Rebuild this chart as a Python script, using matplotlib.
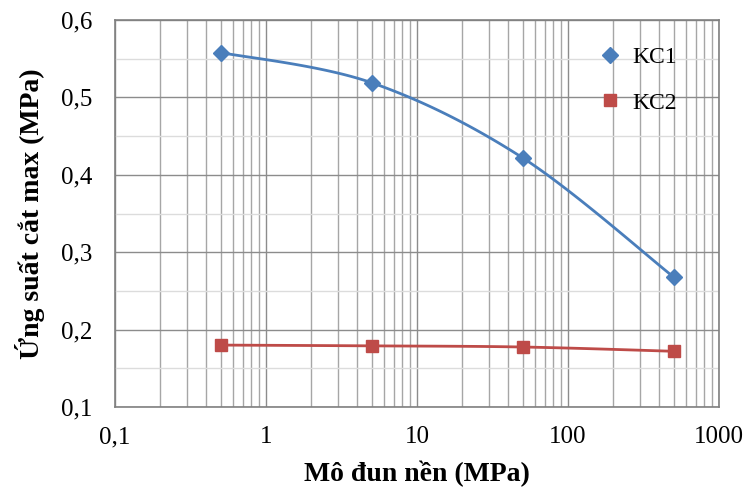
import numpy as np
import matplotlib
matplotlib.use("Agg")
import matplotlib.pyplot as plt
from matplotlib.ticker import FixedLocator, FixedFormatter, LogLocator, NullFormatter

x_vals = [0.5, 5, 50, 500]
kc1 = [0.558, 0.519, 0.422, 0.268]
kc2 = [0.180, 0.179, 0.1775, 0.172]
x_ticks = [0.1, 1, 10, 100, 1000]
x_tick_labels = ["0,1", "1", "10", "100", "1000"]
y_ticks = [0.1, 0.2, 0.3, 0.4, 0.5, 0.6]
y_tick_labels = ["0,1", "0,2", "0,3", "0,4", "0,5", "0,6"]

plt.rcParams['font.family'] = ['Liberation Serif', 'DejaVu Serif']


def smooth(xs, ys, n=40):
    # Catmull-Rom style smoothing in log-x space (like Excel smoothed line)
    lx = np.log10(np.array(xs, float))
    y = np.array(ys, float)
    P = np.column_stack([lx, y])
    pts = []
    for i in range(len(P) - 1):
        p0 = P[i - 1] if i > 0 else P[i]
        p1 = P[i]
        p2 = P[i + 1]
        p3 = P[i + 2] if i + 2 < len(P) else P[i + 1]
        c1 = p1 + (p2 - p0) / 6.0
        c2 = p2 - (p3 - p1) / 6.0
        t = np.linspace(0, 1, n)[:, None]
        seg = ((1 - t) ** 3) * p1 + 3 * ((1 - t) ** 2) * t * c1 + 3 * (1 - t) * t ** 2 * c2 + t ** 3 * p2
        pts.append(seg if i == 0 else seg[1:])
    pts = np.vstack(pts)
    return 10 ** pts[:, 0], pts[:, 1]


fig = plt.figure(figsize=(7.46, 4.92), dpi=100)
ax = fig.add_axes([115 / 746, 1 - 407 / 492, (719 - 115) / 746, (407 - 20) / 492])

blue = "#4a7ebb"
red = "#be4b48"

sx, sy = smooth(x_vals, kc1)
ax.plot(sx, sy, color=blue, lw=2, zorder=3)
ax.plot(x_vals, kc1, linestyle="none", marker="D", ms=8, color=blue, zorder=4, label="KC1")
sx, sy = smooth(x_vals, kc2)
ax.plot(sx, sy, color=red, lw=2, zorder=3)
ax.plot(x_vals, kc2, linestyle="none", marker="s", ms=9, color=red, zorder=4, label="KC2")

ax.set_xscale("log")
ax.set_xlim(0.1, 1000)
ax.set_ylim(0.1, 0.6)
ax.xaxis.set_major_locator(FixedLocator(x_ticks))
ax.xaxis.set_major_formatter(FixedFormatter(x_tick_labels))
ax.xaxis.set_minor_locator(LogLocator(base=10, subs=np.arange(2, 10)))
ax.xaxis.set_minor_formatter(NullFormatter())
ax.yaxis.set_major_locator(FixedLocator(y_ticks))
ax.yaxis.set_major_formatter(FixedFormatter(y_tick_labels))
ax.yaxis.set_minor_locator(FixedLocator([0.15, 0.25, 0.35, 0.45, 0.55]))

ax.grid(True, which="major", color="#8c8c8c", lw=1)
ax.grid(True, which="minor", axis="x", color="#a6a6a6", lw=1)
ax.grid(True, which="minor", axis="y", color="#dcdcdc", lw=1)
ax.set_axisbelow(True)
ax.tick_params(which="both", length=0, labelsize=18)
ax.tick_params(axis="y", pad=16)
ax.tick_params(axis="x", pad=14)
for s in ax.spines.values():
    s.set_color("#808080")
    s.set_linewidth(1.2)

ax.set_xlabel("Mô đun nền (MPa)", fontsize=20, fontweight="bold", labelpad=9)
ax.set_ylabel("Ứng suất cắt max (MPa)", fontsize=20, fontweight="bold", labelpad=12)

leg = ax.legend(loc="upper left", bbox_to_anchor=(0.775, 0.955), frameon=False,
                fontsize=17, handletextpad=0.2, labelspacing=1.0, borderaxespad=0,
                handlelength=1.5)

fig.savefig("out.png", dpi=100)
